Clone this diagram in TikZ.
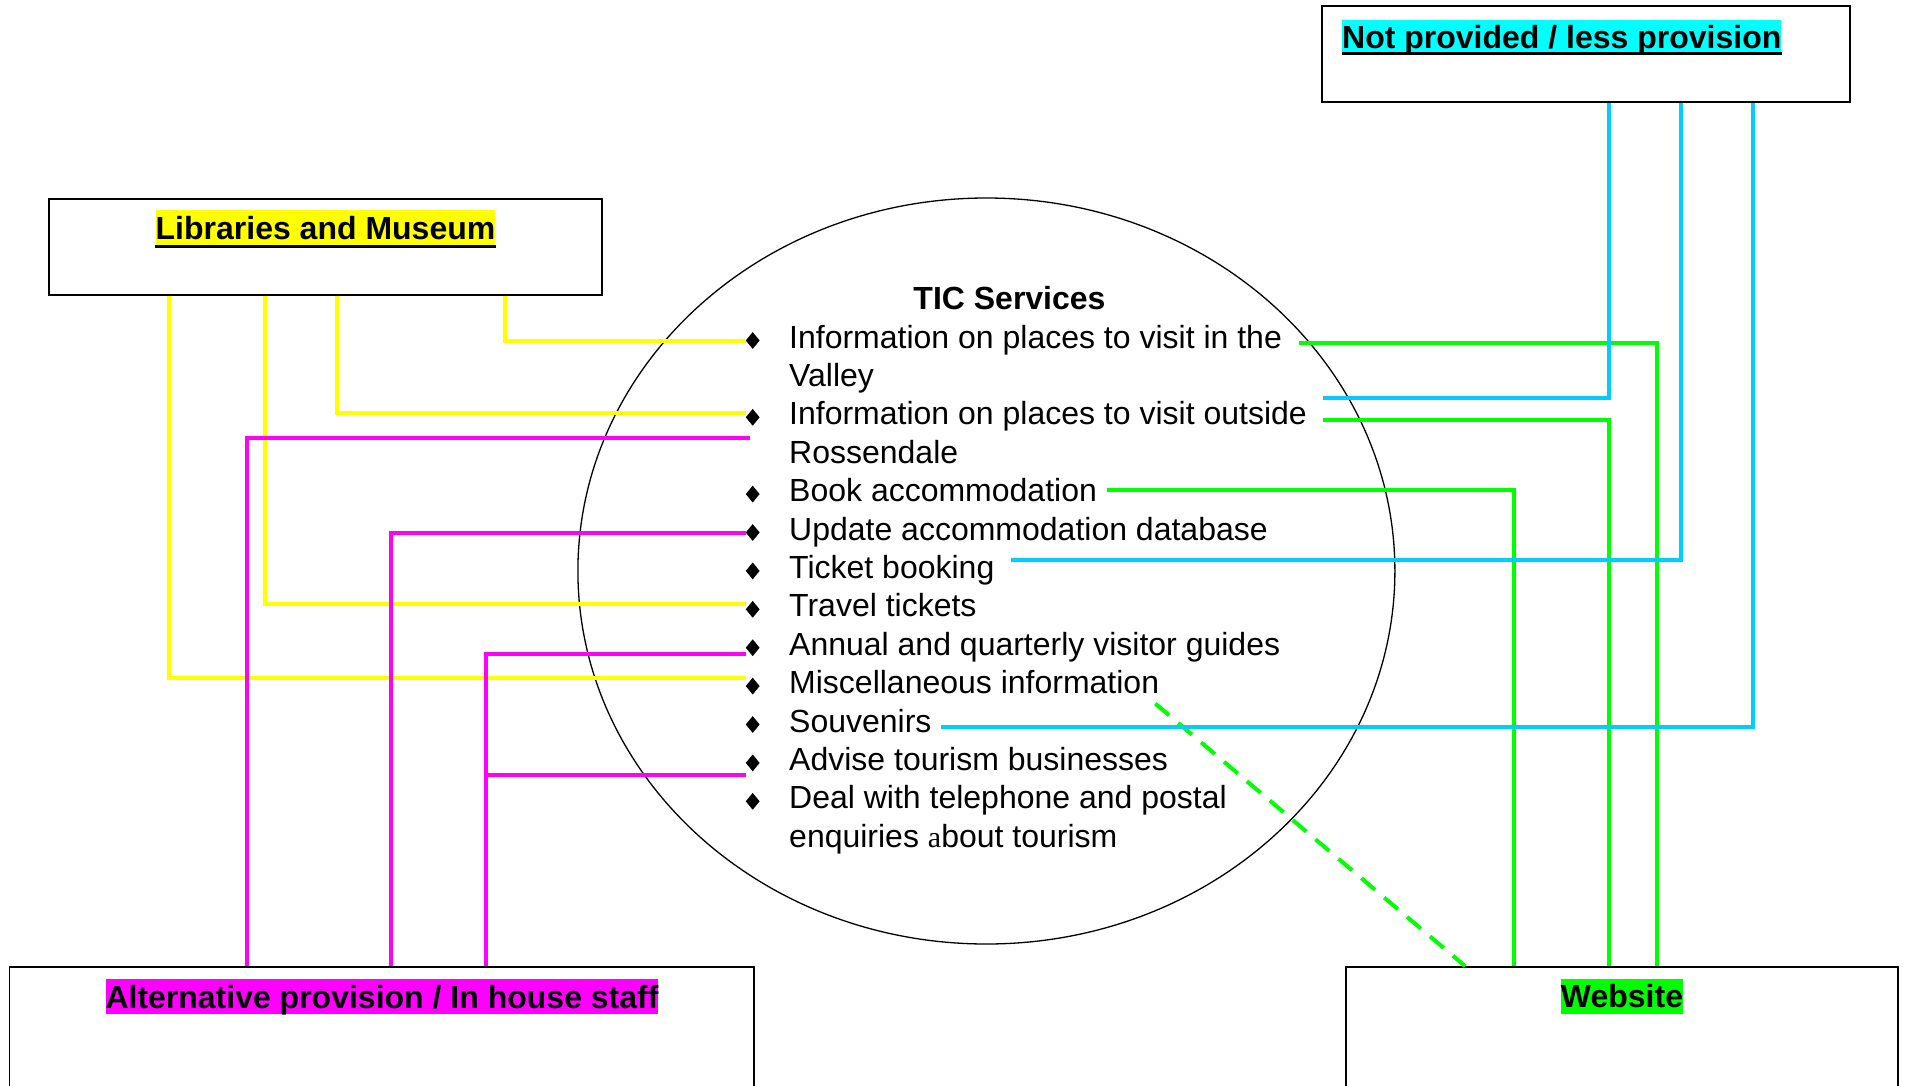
\documentclass[tikz,border=0pt]{standalone}
\usepackage{fontspec}
\setmainfont{Liberation Sans}
\newfontfamily\oddfont{Liberation Serif}
\usepackage{tikz}
\usetikzlibrary{calc}
\usetikzlibrary{shapes}
\definecolor{hlyellow}{RGB}{255,255,0}
\definecolor{hlmagenta}{RGB}{255,0,255}
\definecolor{hlgreen}{RGB}{0,255,0}
\definecolor{hlcyan}{RGB}{0,255,255}
\definecolor{linecyan}{RGB}{0,204,255}
\newcommand{\svcfont}{\fontsize{32}{38.4}\selectfont}
\newcommand{\service}[3]{\node[bul] (b#1) at (752.7,#2-7.5) {}; \node[svc] (t#1) at (789,#2) {#3};}
\newcommand{\svcmore}[3]{\node[svc] (t#1) at (789,#2) {#3};}

\begin{document}
\begin{tikzpicture}[x=1pt, y=-1pt,
    box/.style={draw, line width=1.8pt, inner sep=0pt},
    tag/.style={inner sep=0pt, text height=29pt, text depth=6pt, font=\svcfont\bfseries},
    svc/.style={anchor=base west, inner sep=0pt, font=\svcfont},
    bul/.style={diamond, fill=black, inner sep=0pt, minimum width=14pt, minimum height=17pt},
    yel/.style={draw=hlyellow, line width=4pt},
    mag/.style={draw=hlmagenta, line width=4pt},
    grn/.style={draw=hlgreen, line width=4pt},
    cyn/.style={draw=linecyan, line width=4pt}]
        \clip (0,0) rectangle (1907,1085);
        % services circle
        \node[draw, ellipse, line width=1.3pt, inner sep=0pt,
            minimum width=817pt, minimum height=746pt] (tic) at (986.4,571) {};
        \node[anchor=base, inner sep=0pt, font=\svcfont\bfseries] (tictitle) at (1009.5,309) {TIC Services};
        \service{0}{348}{Information on places to visit in the}
        \svcmore{1}{386.4}{Valley}
        \service{2}{424.8}{Information on places to visit outside}
        \svcmore{3}{463.2}{Rossendale}
        \service{4}{501.6}{Book accommodation}
        \service{5}{540}{Update accommodation database}
        \service{6}{578.4}{Ticket booking}
        \service{7}{616.8}{Travel tickets}
        \service{8}{655.2}{Annual and quarterly visitor guides}
        \service{9}{693.6}{Miscellaneous information}
        \service{10}{732}{Souvenirs}
        \service{11}{770.4}{Advise tourism businesses}
        \service{12}{808.8}{Deal with telephone and postal}
        \svcmore{13}{847.2}{enquiries {\oddfont\fontsize{30}{38.4}\selectfont a}bout tourism}
        % boxes
        \node[box, minimum width=553pt, minimum height=96pt] (lib) at (325.5,247) {};
        \node[box, minimum width=528pt, minimum height=96pt] (notp) at (1586,54) {};
        \node[box, minimum width=744.5pt, minimum height=133pt] (alt) at (381.75,1033.5) {};
        \node[box, minimum width=552pt, minimum height=133pt] (web) at (1622,1033.5) {};
        \node[tag, fill=hlyellow, anchor=base] (libtag) at (325.5,239) {Libraries and Museum};
        \draw[line width=2.6pt] ([yshift=-1.5]libtag.south west) -- ([yshift=-1.5]libtag.south east);
        \node[tag, fill=hlcyan, anchor=base west] (notptag) at (1342,48.5) {Not provided / less provision};
        \draw[line width=2.6pt] ([yshift=1]notptag.south west) -- ([yshift=1]notptag.south east);
        \node[tag, fill=hlmagenta, anchor=base] (alttag) at (382,1008) {Alternative provision / In house staff};
        \node[tag, fill=hlgreen, anchor=base] (webtag) at (1622,1007.5) {Website};
        % yellow links
        \draw[yel] ([xshift=457]lib.south west) |- (b0.west);
        \draw[yel] ([xshift=289]lib.south west) |- ([yshift=4]b2.west);
        \draw[yel] ([xshift=217]lib.south west) |- ([yshift=5]b7.west);
        \draw[yel] ([xshift=120.6]lib.south west) |- ([yshift=8]b9.west);
        % magenta links
        \coordinate (m1end) at (750,438);
        \draw[mag] ([xshift=238.5]alt.north west) |- (m1end);
        \draw[mag] ([xshift=382]alt.north west) |- (b5.west);
        \draw[mag] ([xshift=477]alt.north west) |- ([yshift=-6]b8.west);
        \draw[mag] ([yshift=-12]b11.west) -| ([xshift=477]alt.north west);
        % green links
        \draw[grn] ([xshift=17,yshift=5]t0.base east) -| ([xshift=311.5]web.north west);
        \draw[grn] ([xshift=16,yshift=5]t2.base east) -| ([xshift=264]web.north west);
        \draw[grn] ([xshift=10,yshift=12]t4.base east) -| ([xshift=169]web.north west);
        \draw[grn, dash pattern=on 18pt off 12pt] ([xshift=-4,yshift=-10]t9.base east) -- ([xshift=120]web.north west);
        % cyan links
        \draw[cyn] ([xshift=288]notp.south west) |- ([xshift=16,yshift=27]t2.base east);
        \draw[cyn] ([xshift=360]notp.south west) |- ([xshift=16,yshift=18]t6.base east);
        \draw[cyn] ([xshift=431.5]notp.south west) |- ([xshift=9,yshift=5]t10.base east);
    \end{tikzpicture}
\end{document}
